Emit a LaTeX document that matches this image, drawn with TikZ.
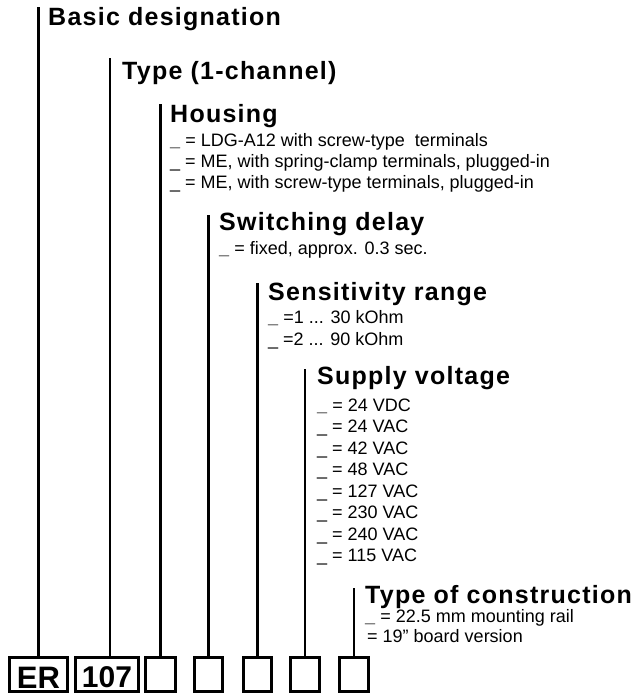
\documentclass[tikz,border=0pt]{standalone}
\usepackage{fontspec}
\setmainfont{Liberation Sans}
\newfontfamily\hdrfont[LetterSpace=5]{Liberation Sans}
\begin{document}
\begin{tikzpicture}[x=1pt,y=-1pt,
  hdr/.style={anchor=base west, inner sep=0pt, font=\hdrfont\bfseries\fontsize{25}{28}\selectfont},
  opt/.style={anchor=base west, inner sep=0pt, font=\fontsize{18}{20}\selectfont},
  vline/.style={line width=2.6pt},
  codebox/.style={draw, line width=2.6pt, inner sep=0pt, minimum height=34.5pt, font=\bfseries\fontsize{31}{31}\selectfont}]
\useasboundingbox (0,0) rectangle (641,694);
% boxes
\node[codebox, minimum width=58.5pt] (b1) at (38.5,674.5) {\raisebox{-3pt}[\height][0pt]{ER}};
\node[codebox, minimum width=63.5pt, font=\bfseries\fontsize{30}{30}\selectfont] (b2) at (107,674.5) {\raisebox{-3pt}[\height][0pt]{107}};
\node[codebox, minimum width=30.5pt] (b3) at (160.5,674.5) {};
\node[codebox, minimum width=28.5pt] (b4) at (208.5,674.5) {};
\node[codebox, minimum width=28.5pt] (b5) at (257.5,674.5) {};
\node[codebox, minimum width=28.5pt] (b6) at (305,674.5) {};
\node[codebox, minimum width=28.5pt] (b7) at (354,674.5) {};
% line tops
\coordinate (t1) at (38.5,7);
\coordinate (t2) at (110,58);
\coordinate (t3) at (160.5,104);
\coordinate (t4) at (208.5,215);
\coordinate (t5) at (257.5,283);
\coordinate (t6) at (305,369);
\coordinate (t7) at (354,588);
\foreach \i in {1,...,7} {\draw[vline] (t\i) -- (t\i |- b\i.north);}
% headers
\node[hdr] (h1) at (48,25) {Basic designation};
\node[hdr] (h2) at (122,79) {Type (1-channel)};
\node[hdr] (h3) at (170,122) {Housing};
\node[hdr] (h4) at (219,230) {Switching delay};
\node[hdr] (h5) at (268,300) {Sensitivity range};
\node[hdr] (h6) at (317,384) {Supply voltage};
\node[hdr] (h7) at (365,603) {Type of construction};
% housing options
\node[opt] (o31) at (170,146) {\textbf{\_}\ = LDG-A12 with screw-type\ \ terminals};
\node[opt] (o32) at (170,167) {\_\ = ME, with spring-clamp terminals, plugged-in};
\node[opt] (o33) at (170,188) {\_\ = ME, with screw-type terminals, plugged-in};
% switching delay
\node[opt] (o41) at (219,254) {\textbf{\_}\ = fixed, approx. 0.3 sec.};
% sensitivity
\node[opt] (o51) at (268,323) {\textbf{\_}\ =1 ... 30 kOhm};
\node[opt] (o52) at (268,345) {\_\ =2 ... 90 kOhm};
% supply voltage
\node[opt] (o61) at (317,411) {\textbf{\_}\ = 24 VDC};
\node[opt] (o62) at (317,432) {\_\ = 24 VAC};
\node[opt] (o63) at (317,454) {\_\ = 42 VAC};
\node[opt] (o64) at (317,475) {\_\ = 48 VAC};
\node[opt] (o65) at (317,497) {\_\ = 127 VAC};
\node[opt] (o66) at (317,518) {\_\ = 230 VAC};
\node[opt] (o67) at (317,540) {\_\ = 240 VAC};
\node[opt] (o68) at (317,561) {\_\ = 115 VAC};
% construction
\node[opt] (o71) at (365,622) {\textbf{\_}\ = 22.5 mm mounting rail};
\node[opt] (o72) at (367,642) {= 19" board version};
\end{tikzpicture}
\end{document}
